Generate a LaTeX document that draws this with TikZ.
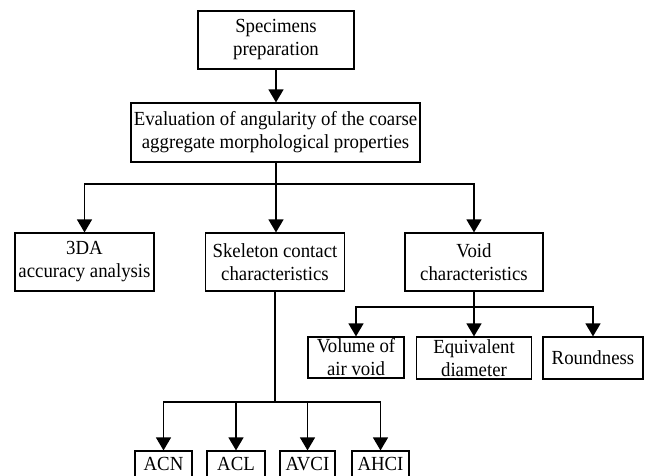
\documentclass[tikz,border=0pt]{standalone}
\usepackage{fontspec}
\setmainfont{Liberation Serif}[FakeStretch=0.94]
\usetikzlibrary{arrows.meta}
\begin{document}
\begin{tikzpicture}[x=1pt,y=-1pt,
  box/.style={draw, line width=1.2pt, inner sep=0pt, align=center,
    font=\fontsize{20}{23}\selectfont},
  conn/.style={line width=1.4pt},
  arr/.style={conn, -{Triangle[length=13pt,width=15pt]}}]
\useasboundingbox (0,0) rectangle (651,475);
\node[box, minimum width=156pt, minimum height=58pt] (spec) at (276,40) {Specimens\\preparation};
\node[box, minimum width=289pt, minimum height=59pt] (eval) at (275.5,132.5) {Evaluation of angularity of the coarse\\aggregate morphological properties};
\node[box, minimum width=139pt, minimum height=58pt] (tda) at (84.5,262) {3DA\\accuracy analysis};
\node[box, minimum width=139pt, minimum height=58pt] (skel) at (275,262) {Skeleton contact\\characteristics};
\node[box, minimum width=138pt, minimum height=58pt] (void) at (474,262) {Void\\characteristics};
\node[box, minimum width=96pt, minimum height=41pt] (vol) at (356,357.5) {Volume of\\air void};
\node[box, minimum width=115pt, minimum height=42pt] (equ) at (474,358) {Equivalent\\diameter};
\node[box, minimum width=100pt, minimum height=42pt] (rnd) at (593,358) {Roundness};
\node[box, minimum width=57pt, minimum height=26pt] (acn) at (163.5,464) {ACN};
\node[box, minimum width=58pt, minimum height=26pt] (acl) at (236,464) {ACL};
\node[box, minimum width=55pt, minimum height=26pt] (avci) at (307.5,464) {AVCI};
\node[box, minimum width=57pt, minimum height=26pt] (ahci) at (380.5,464) {AHCI};
\coordinate (bm) at (276,184);
\coordinate (sk) at (275,402);
\coordinate (vd) at (474,307);
% top
\draw[arr] (spec.south -| bm) -- (eval.north -| bm);
\draw[arr] (eval.south -| bm) -- (bm) -| (tda.north);
\draw[arr] (bm) -| (void.north);
\draw[arr] (bm) -- (skel.north -| bm);
% skeleton
\draw[arr] (skel.south) -- (sk) -| (acn.north);
\draw[arr] (sk) -| (ahci.north);
\draw[arr] (acl.north |- sk) -- (acl.north);
\draw[arr] (avci.north |- sk) -- (avci.north);
% void
\draw[arr] (void.south) -- (vd) -| (vol.north);
\draw[arr] (vd) -| (rnd.north);
\draw[arr] (vd) -- (equ.north);
\end{tikzpicture}
\end{document}
